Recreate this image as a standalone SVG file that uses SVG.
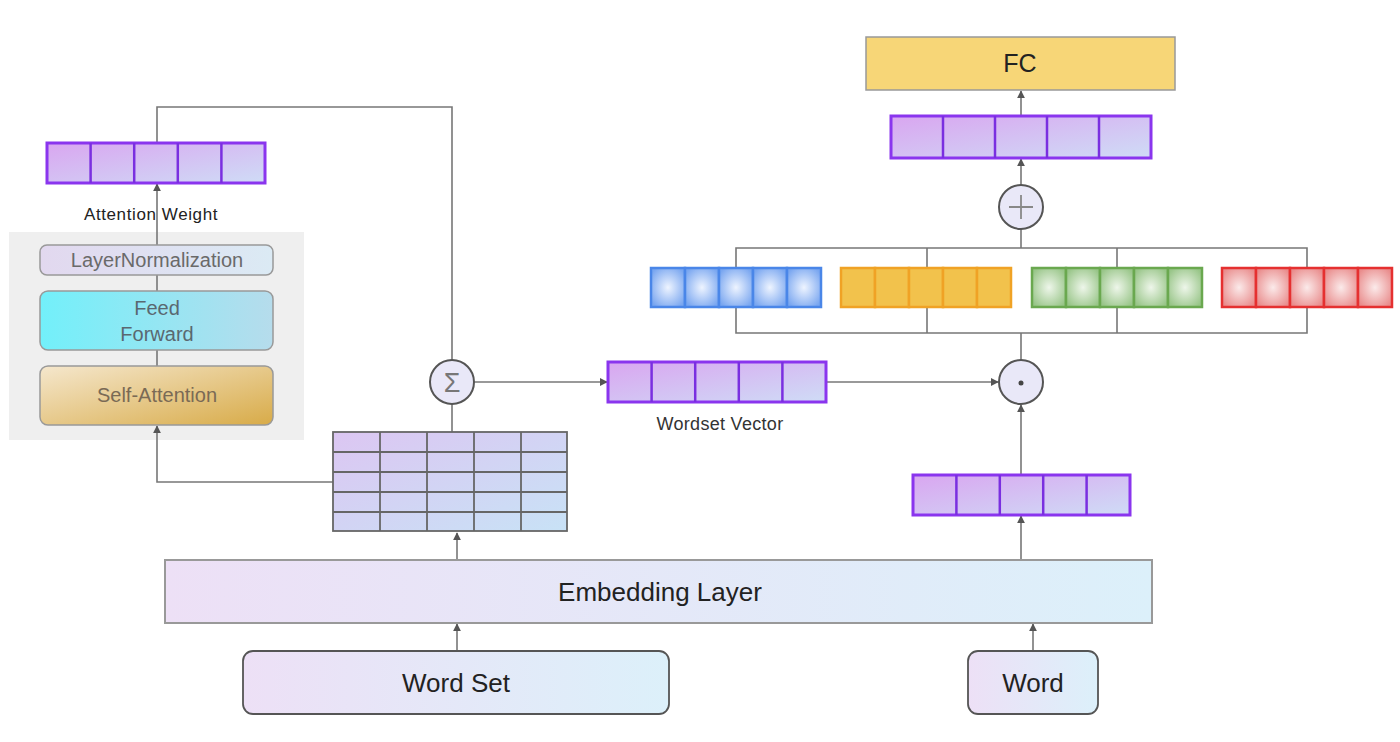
<svg xmlns="http://www.w3.org/2000/svg" width="1400" height="742" viewBox="0 0 1400 742">
<defs>
<style>
.ln{fill:none;stroke:#777;stroke-width:1.6}
.arr{marker-end:url(#ah)}
.vec{fill:url(#gPurple);stroke:#8a35ee;stroke-width:3}
.vcell{stroke:#7a2fe0;stroke-width:2.5}
.op{fill:#e9e8f8;stroke:#555;stroke-width:2}
.t{font-family:"Liberation Sans",Arial,sans-serif;text-anchor:middle}
.mat{stroke:#666;stroke-width:1.8}
</style>
<marker id="ah" viewBox="0 0 10 10" refX="9" refY="5" markerWidth="8" markerHeight="8" orient="auto" markerUnits="userSpaceOnUse">
<path d="M0,0 L10,5 L0,10 z" fill="#555"/>
</marker>
<linearGradient id="gPurple" x1="0" y1="0" x2="1" y2="1">
<stop offset="0" stop-color="#d9a6f0"/><stop offset="1" stop-color="#cfdcf6"/>
</linearGradient>
<linearGradient id="gEmb" x1="0" y1="0" x2="1" y2="0">
<stop offset="0" stop-color="#ede0f6"/><stop offset="1" stop-color="#dcf0fa"/>
</linearGradient>
<linearGradient id="gMat" x1="0" y1="0" x2="1" y2="1">
<stop offset="0" stop-color="#dcc6f2"/><stop offset="1" stop-color="#c8e2f6"/>
</linearGradient>
<linearGradient id="gLN" x1="0" y1="0" x2="1" y2="0">
<stop offset="0" stop-color="#e2d8ef"/><stop offset="1" stop-color="#dbeaf4"/>
</linearGradient>
<linearGradient id="gFF" x1="0" y1="0" x2="1" y2="0">
<stop offset="0" stop-color="#72f0fa"/><stop offset="1" stop-color="#b6dcec"/>
</linearGradient>
<linearGradient id="gSA" x1="0" y1="0" x2="1" y2="1">
<stop offset="0" stop-color="#f5e7cd"/><stop offset="1" stop-color="#d8ab48"/>
</linearGradient>
<radialGradient id="gBlue" r="0.6"><stop offset="0" stop-color="#eef4ff"/><stop offset="1" stop-color="#79a6f0"/></radialGradient>
<radialGradient id="gGreen" r="0.6"><stop offset="0" stop-color="#eef6ea"/><stop offset="1" stop-color="#98c588"/></radialGradient>
<radialGradient id="gRed" r="0.6"><stop offset="0" stop-color="#fbeaea"/><stop offset="1" stop-color="#e98c8c"/></radialGradient>
</defs>
<rect width="1400" height="742" fill="#ffffff"/>

<g id="encoder-block">
<rect x="9" y="232" width="295" height="208" fill="#efefef"/>
</g>

<g id="connectors">
<polyline class="ln" points="157,143 157,107 452,107 452,360"/>
<line class="ln arr" x1="157" y1="245" x2="157" y2="184"/>
<line class="ln" x1="157" y1="275" x2="157" y2="291"/>
<line class="ln" x1="157" y1="350" x2="157" y2="366"/>
<polyline class="ln arr" points="333,482 157,482 157,426"/>
<line class="ln" x1="452" y1="432" x2="452" y2="404"/>
<line class="ln arr" x1="474" y1="382" x2="607" y2="382"/>
<line class="ln arr" x1="826" y1="382" x2="998" y2="382"/>
<line class="ln arr" x1="1021" y1="475" x2="1021" y2="405"/>
<line class="ln" x1="1021" y1="360" x2="1021" y2="333"/>
<polyline class="ln" points="736,307 736,333 1307,333 1307,307"/>
<line class="ln" x1="927" y1="307" x2="927" y2="333"/>
<line class="ln" x1="1117" y1="307" x2="1117" y2="333"/>
<polyline class="ln" points="736,268 736,248 1307,248 1307,268"/>
<line class="ln" x1="927" y1="268" x2="927" y2="248"/>
<line class="ln" x1="1117" y1="268" x2="1117" y2="248"/>
<line class="ln" x1="1021" y1="248" x2="1021" y2="229"/>
<line class="ln arr" x1="1021" y1="186" x2="1021" y2="159"/>
<line class="ln arr" x1="1021" y1="116" x2="1021" y2="91"/>
<line class="ln arr" x1="457" y1="560" x2="457" y2="533"/>
<line class="ln arr" x1="1021" y1="560" x2="1021" y2="516"/>
<line class="ln arr" x1="457" y1="651" x2="457" y2="624"/>
<line class="ln arr" x1="1033" y1="651" x2="1033" y2="624"/>
</g>

<g id="attention-weight">
<rect class="vec" x="47" y="143" width="218" height="40"/>
<g class="vcell"><line x1="90.6" y1="143" x2="90.6" y2="183"/><line x1="134.2" y1="143" x2="134.2" y2="183"/><line x1="177.8" y1="143" x2="177.8" y2="183"/><line x1="221.4" y1="143" x2="221.4" y2="183"/></g>
<text class="t" x="151" y="220" font-size="17" fill="#222" letter-spacing="0.6">Attention Weight</text>
</g>

<g id="layer-norm">
<rect x="40" y="245" width="233" height="30" rx="7" fill="url(#gLN)" stroke="#999" stroke-width="1.5"/>
<text class="t" x="157" y="267" font-size="20" fill="#6a6a6a">LayerNormalization</text>
</g>
<g id="feed-forward">
<rect x="40" y="291" width="233" height="59" rx="8" fill="url(#gFF)" stroke="#999" stroke-width="1.5"/>
<text class="t" x="157" y="315" font-size="20" fill="#5a6870">Feed</text>
<text class="t" x="157" y="341" font-size="20" fill="#5a6870">Forward</text>
</g>
<g id="self-attention">
<rect x="40" y="366" width="233" height="59" rx="8" fill="url(#gSA)" stroke="#999" stroke-width="1.5"/>
<text class="t" x="157" y="402" font-size="20" fill="#7a6a55">Self-Attention</text>
</g>

<g id="embedding-matrix">
<rect x="333" y="432" width="234" height="99" fill="url(#gMat)" stroke="#666" stroke-width="1.8"/>
<g class="mat">
<line x1="380" y1="432" x2="380" y2="531"/><line x1="427" y1="432" x2="427" y2="531"/><line x1="474" y1="432" x2="474" y2="531"/><line x1="521" y1="432" x2="521" y2="531"/>
<line x1="333" y1="452" x2="567" y2="452"/><line x1="333" y1="472" x2="567" y2="472"/><line x1="333" y1="492" x2="567" y2="492"/><line x1="333" y1="512" x2="567" y2="512"/>
</g>
</g>

<g id="sum-op">
<circle class="op" cx="452" cy="382" r="22"/>
<text class="t" x="452" y="392" font-size="27" fill="#777">Σ</text>
</g>

<g id="wordset-vector">
<rect class="vec" x="608" y="362" width="218" height="40"/>
<g class="vcell"><line x1="651.6" y1="362" x2="651.6" y2="402"/><line x1="695.2" y1="362" x2="695.2" y2="402"/><line x1="738.8" y1="362" x2="738.8" y2="402"/><line x1="782.4" y1="362" x2="782.4" y2="402"/></g>
<text class="t" x="720" y="430" font-size="18" fill="#333" letter-spacing="0.3">Wordset Vector</text>
</g>

<g id="dot-op">
<circle class="op" cx="1021" cy="382" r="22"/>
<circle cx="1021" cy="383" r="2.5" fill="#444"/>
</g>

<g id="word-vector">
<rect class="vec" x="913" y="475" width="217" height="40"/>
<g class="vcell"><line x1="956.4" y1="475" x2="956.4" y2="515"/><line x1="999.8" y1="475" x2="999.8" y2="515"/><line x1="1043.2" y1="475" x2="1043.2" y2="515"/><line x1="1086.6" y1="475" x2="1086.6" y2="515"/></g>
</g>

<g id="blue-vector">
<g fill="url(#gBlue)" stroke="#4a86e8" stroke-width="2.5">
<rect x="651" y="268" width="34" height="39"/><rect x="685" y="268" width="34" height="39"/><rect x="719" y="268" width="34" height="39"/><rect x="753" y="268" width="34" height="39"/><rect x="787" y="268" width="34" height="39"/>
</g>
</g>
<g id="orange-vector">
<g fill="#f2c24c" stroke="#f0a225" stroke-width="2.5">
<rect x="841" y="268" width="34" height="39"/><rect x="875" y="268" width="34" height="39"/><rect x="909" y="268" width="34" height="39"/><rect x="943" y="268" width="34" height="39"/><rect x="977" y="268" width="34" height="39"/>
</g>
</g>
<g id="green-vector">
<g fill="url(#gGreen)" stroke="#6aa84f" stroke-width="2.5">
<rect x="1032" y="268" width="34" height="39"/><rect x="1066" y="268" width="34" height="39"/><rect x="1100" y="268" width="34" height="39"/><rect x="1134" y="268" width="34" height="39"/><rect x="1168" y="268" width="34" height="39"/>
</g>
</g>
<g id="red-vector">
<g fill="url(#gRed)" stroke="#e53030" stroke-width="2.5">
<rect x="1222" y="268" width="34" height="39"/><rect x="1256" y="268" width="34" height="39"/><rect x="1290" y="268" width="34" height="39"/><rect x="1324" y="268" width="34" height="39"/><rect x="1358" y="268" width="34" height="39"/>
</g>
</g>

<g id="plus-op">
<circle class="op" cx="1021" cy="207" r="22"/>
<path d="M1009,207 H1033 M1021,195 V219" stroke="#888" stroke-width="1.8" fill="none"/>
</g>

<g id="output-vector">
<rect class="vec" x="891" y="116" width="260" height="42"/>
<g class="vcell"><line x1="943" y1="116" x2="943" y2="158"/><line x1="995" y1="116" x2="995" y2="158"/><line x1="1047" y1="116" x2="1047" y2="158"/><line x1="1099" y1="116" x2="1099" y2="158"/></g>
</g>

<g id="fc">
<rect x="866" y="37" width="309" height="53" fill="#f7d677" stroke="#999" stroke-width="1.5"/>
<text class="t" x="1020" y="72" font-size="25" fill="#222">FC</text>
</g>

<g id="embedding-layer">
<rect x="165" y="560" width="987" height="63" fill="url(#gEmb)" stroke="#999" stroke-width="2"/>
<text class="t" x="660" y="601" font-size="26" fill="#222">Embedding Layer</text>
</g>

<g id="word-set">
<rect x="243" y="651" width="426" height="63" rx="10" fill="url(#gEmb)" stroke="#555" stroke-width="1.8"/>
<text class="t" x="456" y="692" font-size="26" fill="#222">Word Set</text>
</g>

<g id="word">
<rect x="968" y="651" width="130" height="63" rx="10" fill="url(#gEmb)" stroke="#555" stroke-width="1.8"/>
<text class="t" x="1033" y="692" font-size="26" fill="#222">Word</text>
</g>
</svg>
